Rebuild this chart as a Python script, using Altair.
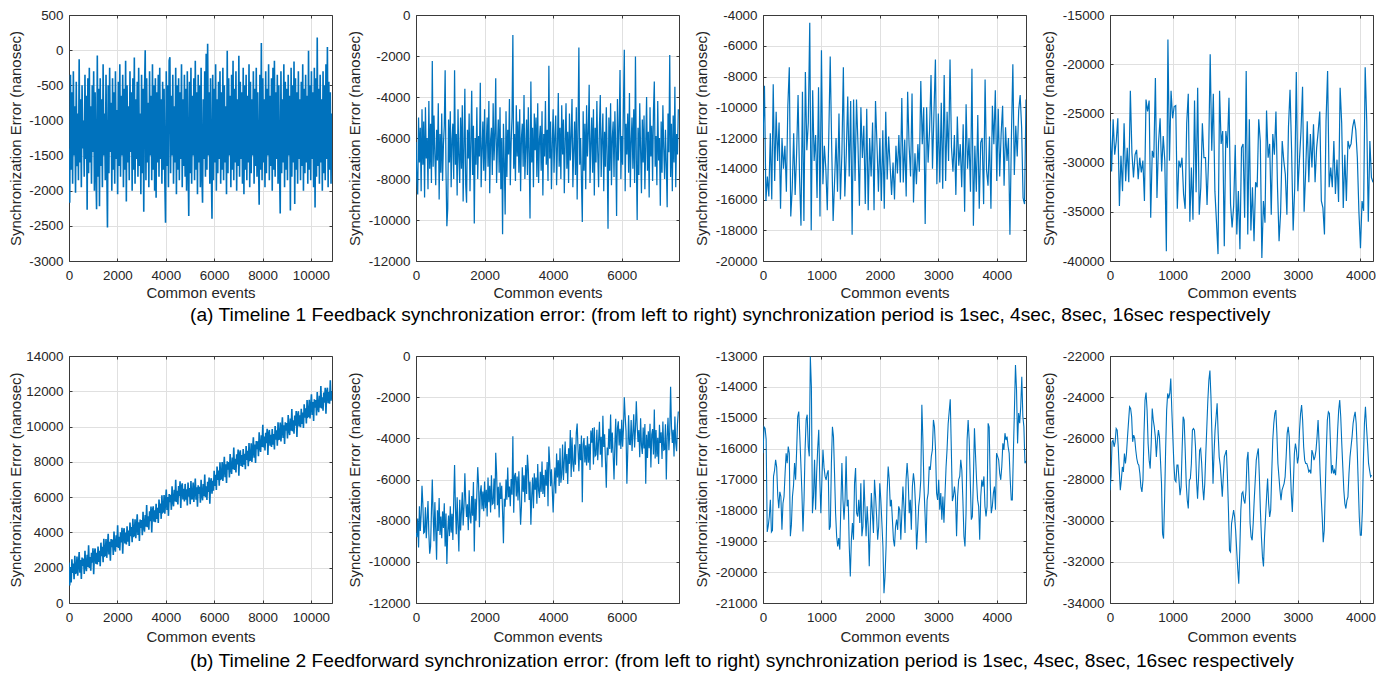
import altair as alt
import pandas as pd

FONT = "Liberation Sans"
BLUE = "#0072BD"
TXT = "#262626"
FRAME = "#3a3a3a"

Y_TITLE = "Synchronization Error (nanosec)"
X_TITLE = "Common events"
CAPTION_A = ("(a) Timeline 1 Feedback synchronization error: (from left to right) "
             "synchronization period is 1sec, 4sec, 8sec, 16sec respectively")
CAPTION_B = ("(b) Timeline 2 Feedforward synchronization error: (from left to right) "
             "synchronization period is 1sec, 4sec, 8sec, 16sec respectively")

# ---------------- Timeline 1, feedback ----------------
A1_STEP, A1_XMAX = 30, 10870
A1 = [
    -1400, -2170, -350, -1700, -600, -1900, -300, -1500, -800, -2030,
    -450, -1650, -900, -1850, -130, -1600, -700, -1950, -500, -1400,
    -1000, -1800, -350, -1550, -650, -2270, -400, -1750, -250, -1600,
    -800, -1900, -500, -1450, -300, -2000, -600, -1700, -2265, -75,
    -1800, -550, -2220, -400, -1650, -700, -1950, -200, -1500, -900,
    -1850, -350, -1600, -2525, -500, -1750, -250, -1450, -750, -2000,
    -400, -1700, -600, -1900, -300, -1550, -850, -2050, -450, -1650,
    -200, -1800, -650, -1500, -350, -1950, -550, -1700, -150, -2155,
    -500, -1600, -800, -1850, -300, -1450, -600, -2000, -400, -1700,
    -105, -1900, -700, -1550, -450, -1800, -250, -1650, -900, -2050,
    -350, -1750, -550, -2300, -600, 0, -1850, -400, -1600, -750,
    -1950, -300, -1500, -650, -1850, -200, -1700, -500, -2000, -400,
    -2100, -600, -1600, -350, -1800, -250, -1550, -700, -1900, -450,
    -1700, -550, -1850, -2455, -300, -1650, -500, -1950, -150, -100,
    -1750, -650, -1500, -350, -1900, -800, -1600, -250, -2050, -500,
    -1700, -400, -1850, -600, -1550, -200, -1950, -700, -1650, -350,
    -1800, -550, -2000, -300, -1600, -2360, -450, -1750, -250, -1900,
    -650, -1500, -400, -1850, -150, -1700, -600, -2050, -350, -1600,
    -500, -1950, -250, -1750, -2170, -700, -1550, -300, -1800, -50,
    -1700, 90, -1500, -600, -1900, -400, -1650, -2400, -350, -1850,
    -550, -1600, -200, -2000, -700, -1750, -450, -1550, -300, -1900,
    -600, -1700, -250, -1850, -500, -1600, -800, -2050, -10, -1750,
    -400, -1500, -650, -1950, -350, -1700, -150, -1850, -550, -1600,
    -300, -2000, -700, -1650, -80, -1800, -450, -1550, -600, -1900,
    -250, -2050, -500, -1700, -350, -1850, -650, -1600, -200, -1950,
    -450, -1750, -700, -1500, -300, -1900, -550, -1650, -250, -1800,
    -600, -1550, -2200, -350, -1700, 100, -1850, -400, -1600, -700,
    -1950, -300, -1750, -550, -1500, -200, -1850, -650, -1650, -400,
    -2000, -250, -1700, -150, -1800, -600, -1550, -350, -1900, -500,
    -1650, -2325, -300, -1750, -700, -1600, -200, -1950, -450, -1700,
    -550, -1850, -350, -1500, -650, -2280, -250, -1800, -500, -1600,
    -160, -2190, -400, -1700, -600, -1900, -300, -1550, -700, -1850,
    -450, -1650, -200, -2000, -550, -1750, -350, -1600, -650, -1900,
    -10, -1700, -500, -1850, -300, -1550, -600, -1950, -250, -2240,
    -400, -1800, 180, -1650, -550, -1900, -350, -1600, -700, -2000,
    -300, -1750, -500, -1850, -200, -1550, 45, -1950, -450, -1700,
    -600, -1900, -900,
]

A2_STEP, A2_XMAX = 25, 7670
A2 = [
    -6200, -8000, -8760, -5000, -7200, -5500, -8600, -4600, -7300, -5200,
    -8900, -4500, -7000, -6000, -8500, -4200, -7500, -5300, -8200, -2240,
    -7400, -4900, -6800, -8300, -5600, -7100, -4300, -9000, -5800, -7700,
    -4800, -8100, -6300, -5400, -2700, -7600, -10300, -9450, -5100, -7200,
    -4700, -8400, -6100, -5300, -8000, -2700, -7300, -5800, -8800, -4600,
    -6900, -8200, -5000, -7500, -4400, -9100, -6400, -3600, -8300, -9160,
    -5600, -7000, -4800, -8600, -6200, -3700, -7800, -5400, -10170, -6000,
    -7300, -4500, -8000, -5900, -6900, -3300, -8400, -6600, -5200, -7600,
    -4600, -8100, -6300, -5000, -7400, -4200, -8700, -6100, -5500, -7800,
    -4300, -7100, -5900, -3080, -8200, -6400, -5100, -7700, -4500, -8500,
    -6000, -10700, -5300, -7200, -9730, -4700, -7900, -5600, -6800, -4100,
    -8300, -6200, -5000, -970, -7500, -5800, -8100, -4400, -6900, -5200,
    -7700, -4600, -8600, -6000, -5300, -7400, -3900, -8000, -6500, -5100,
    -7800, -4500, -6700, -9930, -3240, -7200, -5500, -8400, -4800, -6600,
    -5000, -7900, -4300, -8200, -6100, -5400, -7600, -4700, -8800, -5800,
    -6900, -4200, -7300, -5600, -8100, -2470, -7000, -5200, -8500, -6300,
    -4600, -7700, -5900, -4900, -8300, -6400, -3800, -7400, -5500, -8000,
    -4400, -6800, -5100, -8700, -6200, -4300, -7500, -5700, -8200, -4800,
    -7100, -5900, -4100, -8400, -6600, -5200, -7800, -4500, -9000, -5600,
    -1590, -7300, -6000, -8100, -10100, -4700, -7600, -5300, -8500, -4400,
    -6900, -5800, -3400, -8200, -6300, -5000, -7700, -4600, -8800, -5500,
    -7200, -4200, -6700, -8400, -5400, -3900, -7900, -6100, -4800, -8600,
    -5700, -7400, -4500, -6800, -10430, -5000, -7600, -4300, -8300, -6000,
    -5200, -7900, -4700, -6500, -9800, -4100, -7100, -5600, -2680, -8000,
    -5900, -7300, -4400, -1700, -8600, -5300, -6800, -4800, -7700, -3800,
    -8400, -6200, -5000, -7500, -4600, -8200, -2030, -7000, -10000, -5500,
    -7800, -4300, -6600, -8700, -5100, -7200, -4900, -8500, -6300, -4000,
    -7600, -5700, -8900, -4500, -6900, -5400, -8100, -4700, -3240, -7400,
    -5900, -8300, -4200, -7100, -6000, -9300, -5200, -7700, -4400, -6500,
    -8000, -5600, -7300, -9380, -4800, -6700, -1950, -7900, -5300, -8600,
    -4900, -7200, -3500, -8400, -5800, -6800, -4600,
]

A3_STEP, A3_XMAX = 25, 4500
A3 = [
    -12000, -8600, -16100, -14500, -15800, -11700, -16000, -8500, -14800, -10300,
    -13500, -11000, -16600, -12000, -14000, -12500, -15500, -9900, -7400, -17100,
    -15300, -11700, -15700, -13000, -9200, -14500, -17700, -9000, -17400, -7700,
    -12800, -11000, -4500, -18000, -8900, -13500, -11800, -15900, -8700, -17100,
    -6300, -15000, -12500, -14000, -16700, -12000, -6700, -12500, -17400, -14800,
    -12000, -15500, -10400, -16000, -13000, -7400, -15800, -13000, -9300, -14500,
    -9600, -18300, -9500, -14800, -9500, -12400, -16400, -10000, -13300, -11200,
    -16300, -10100, -16700, -12000, -14500, -11000, -16700, -9600, -12400, -15500,
    -12000, -16100, -11500, -16600, -10300, -14700, -11900, -13800, -15700, -13600,
    -16000, -12500, -14300, -11800, -14900, -9400, -14900, -12100, -15800, -9000,
    -12500, -14500, -9100, -16200, -13000, -15000, -12400, -14200, -8300, -12400,
    -10000, -17600, -10000, -13600, -11500, -7900, -14000, -10400, -6900, -15000,
    -10400, -14900, -9700, -15300, -7900, -14800, -10300, -13500, -6900, -12600,
    -14200, -11800, -15700, -10600, -13800, -12400, -15200, -11100, -16800, -9800,
    -14000, -12000, -15500, -7500, -17700, -12500, -15500, -10500, -16600, -12300,
    -12000, -16300, -8200, -14100, -15100, -11900, -16600, -9900, -12400, -8900,
    -14800, -10100, -14500, -11700, -9900, -15100, -11300, -13500, -12000, -18300,
    -12000, -7200, -14400, -11200, -13200, -10200, -9200, -11300, -15900, -16300,
    -9500,
]

A4_STEP, A4_XMAX = 25, 4200
A4 = [
    -25800, -30900, -25600, -29200, -27800, -25500, -34400, -29300, -32900, -26000,
    -31900, -28500, -32000, -22700, -29000, -31500, -29200, -28700, -31700, -29500,
    -31000, -29800, -33900, -23600, -24800, -23700, -35600, -28800, -29500, -21400,
    -33600, -28000, -25500, -30900, -27300, -29800, -39000, -17500, -29800, -22700,
    -25500, -24300, -24200, -34700, -29800, -30500, -29500, -33200, -34700, -26000,
    -23000, -36000, -30500, -35800, -23700, -33000, -22400, -35300, -32500, -26000,
    -29500, -29500, -34300, -29500, -19000, -28800, -23000, -32900, -36000, -39300,
    -22700, -28100, -26800, -38500, -26800, -28500, -23400, -34200, -36600, -34400,
    -28200, -37300, -32900, -38800, -28500, -28100, -35600, -20700, -37300, -25600,
    -36900, -32500, -38000, -32000, -32500, -25600, -27800, -39700, -33900, -36100,
    -24700, -29500, -28100, -35300, -27100, -29200, -24800, -32500, -38000, -35000,
    -27800, -29800, -31200, -35300, -26400, -22600, -28800, -36900, -32500, -20800,
    -32900, -29800, -26800, -22300, -35000, -30900, -25800, -32000, -27100, -30500,
    -26100, -32000, -28500, -26800, -24800, -33900, -34600, -37300, -25800, -20700,
    -32500, -30500, -32500, -27800, -33200, -29700, -34000, -22400, -26000, -34600,
    -29200, -33900, -27800, -28500, -28100, -26400, -25600, -26700, -29500, -35000,
    -38700, -33900, -34900, -20300, -25800, -36000, -27800, -31500, -32000,
]

# ---------------- Timeline 2, feedforward ----------------
B1_STEP, B1_XMAX = 30, 10870
B1 = [
    2300, 1000, 2040, 1160, 2480, 1710, 2230, 1350, 2670, 1690,
    1710, 2630, 1550, 2170, 2890, 1720, 2440, 1360, 2580, 2100,
    2520, 1640, 2960, 2080, 1800, 2730, 2050, 3270, 1990, 2610,
    1830, 2850, 2280, 3100, 1630, 2860, 3090, 2220, 2850, 2180,
    3200, 2330, 2960, 2090, 3420, 2650, 3180, 2310, 3640, 2670,
    2700, 3630, 2560, 3190, 3920, 2750, 3470, 2400, 3630, 3160,
    3590, 2720, 4050, 3180, 2910, 3840, 3170, 4400, 3120, 3750,
    2980, 4010, 3430, 4260, 2790, 4020, 4240, 3370, 4000, 3320,
    4350, 3480, 4110, 3230, 4560, 3790, 4310, 3440, 4770, 3790,
    3820, 4750, 3670, 4300, 5030, 3850, 4580, 3510, 4730, 4260,
    4700, 3840, 5170, 4310, 4040, 4980, 4320, 5550, 4290, 4920,
    4160, 5200, 4630, 5470, 4000, 5240, 5480, 4610, 5250, 4580,
    5620, 4760, 5390, 4530, 5860, 5100, 5640, 4770, 6110, 5140,
    5180, 6120, 5060, 5700, 6430, 5270, 6000, 4940, 6170, 5710,
    6140, 5280, 6610, 5750, 5480, 6420, 5750, 6990, 5720, 6360,
    5590, 6630, 6060, 6900, 5390, 6590, 6780, 5870, 6470, 5760,
    6750, 5850, 6440, 5530, 6830, 6020, 6510, 5600, 6910, 5910,
    5920, 6830, 5730, 6340, 7050, 5850, 6560, 5460, 6670, 6180,
    6580, 5690, 6990, 6100, 5820, 6740, 6060, 7280, 6000, 6620,
    5840, 6870, 6290, 7110, 5630, 6850, 7070, 6200, 6930, 6370,
    7500, 6640, 7270, 6410, 7740, 6980, 7510, 6650, 7980, 7020,
    7050, 7990, 6920, 7560, 8290, 7130, 7860, 6800, 8030, 7560,
    7990, 7120, 8450, 7590, 7320, 8250, 7580, 8810, 7540, 8170,
    7400, 8430, 7860, 8700, 7220, 8440, 8650, 7770, 8390, 7710,
    8730, 7840, 8460, 7580, 8900, 8110, 8630, 7750, 9070, 8080,
    8100, 9050, 7990, 8640, 9390, 8240, 8980, 7930, 9180, 8720,
    9170, 8320, 9670, 8810, 8560, 9510, 8850, 10100, 8810, 9430,
    8640, 9650, 9060, 9880, 8390, 9600, 9810, 8920, 9540, 8850,
    9860, 8970, 9580, 8700, 10030, 9260, 9790, 8920, 10250, 9280,
    9300, 10230, 9160, 9790, 10520, 9350, 10080, 9010, 10240, 9770,
    10200, 9330, 10660, 9790, 9520, 10450, 9770, 11000, 9730, 10360,
    9590, 10620, 10050, 10880, 9410, 10640, 10870, 10000, 10640, 9970,
    11010, 10150, 10790, 9920, 11260, 10500, 11040, 10170, 11510, 10550,
    10590, 11520, 10460, 11100, 11830, 10660, 11390, 10320, 11540, 11070,
    11500, 10630, 11960, 11090, 10820, 11750, 11070, 12300, 11030, 11660,
    10900, 11930, 11360, 12200, 10730, 11960, 12200, 11330, 11960, 11300,
    12630, 11460, 12000,
]

B2_STEP, B2_XMAX = 25, 7670
B2 = [
    -8600, -8800, -7900, -9300, -7300, -8500, -7700, -6300, -7200, -8600,
    -8550, -7350, -8850, -7950, -7050, -8650, -9600, -9250, -7550, -6000,
    -7700, -9000, -7100, -8400, -9900, -7500, -8500, -6900, -8700, -7800,
    -8850, -7550, -8350, -7150, -9250, -7650, -10100, -8550, -7750, -8750,
    -7300, -8580, -7660, -8940, -7020, -5300, -7380, -8660, -6860, -8220,
    -9500, -6980, -8480, -7540, -6620, -8230, -7320, -5700, -7040, -7820,
    -7200, -8460, -6520, -7780, -8140, -6800, -7760, -6120, -9500, -6940,
    -8000, -6660, -5400, -6220, -8320, -6620, -6280, -7440, -6580, -7540,
    -6100, -7400, -6500, -7800, -5900, -7100, -6300, -7600, -5800, -7200,
    -7150, -5950, -7450, -4700, -5650, -7250, -6350, -7850, -6150, -6950,
    -6300, -7580, -9100, -6940, -7320, -6000, -6980, -5420, -6860, -6340,
    -7300, -5980, -6740, -3900, -7620, -5820, -5680, -6830, -5860, -7020,
    -5600, -6900, -8200, -7300, -5400, -6600, -5800, -7100, -5300, -6700,
    -4800, -5500, -7000, -6100, -8200, -6800, -5900, -7400, -5700, -6500,
    -5900, -7180, -5250, -6520, -6900, -5620, -6600, -5130, -6700, -5780,
    -6850, -5530, -6300, -5150, -7300, -4400, -5170, -6330, -5500, -6530,
    -7600, -6360, -5420, -6680, -4740, -5900, -5060, -6320, -4480, -6160,
    -5760, -4300, -6020, -5080, -4160, -5700, -4760, -6220, -4480, -5240,
    -3600, -5880, -3960, -5240, -5620, -4300, -5280, -3720, -3280, -4520,
    -5600, -4280, -5060, -3860, -7100, -4300, -3990, -5170, -4340, -5320,
    -3900, -5180, -4260, -5540, -3620, -4210, -3500, -5270, -3460, -4860,
    -4800, -3580, -5060, -4140, -3200, -4800, -3920, -5400, -2900, -4420,
    -3800, -5080, -6400, -4440, -4820, -3540, -4520, -2840, -4700, -3720,
    -4800, -6000, -4260, -3050, -5320, -3500, -3170, -4350, -3540, -4520,
    -3100, -4410, -3520, -2000, -2940, -3650, -6200, -4670, -2880, -4290,
    -4300, -3110, -4620, -3730, -2830, -4450, -3560, -2200, -3380, -4180,
    -3600, -4920, -3030, -4350, -4760, -3480, -4490, -3300, -6200, -3830,
    -4950, -3660, -4480, -3290, -5420, -3820, -3550, -4780, -2600, -4980,
    -3600, -4890, -3970, -5250, -3340, -4230, -3710, -5000, -3180, -4570,
    -4540, -3320, -6000, -3910, -3000, -4580, -3670, -1500, -3430, -4230,
    -3580, -4880, -2940, -4240, -4630, -3310, -2700,
]

B3_STEP, B3_XMAX = 18, 4500
B3 = [
    -16150, -15300, -15350, -15700, -18700, -18500, -18200, -17660, -18700, -18650,
    -16900, -16700, -16360, -16600, -17500, -17930, -17400, -17550, -18630, -17770,
    -17550, -16800, -16150, -16470, -15930, -16150, -18840, -18470, -17550, -17200,
    -16470, -17010, -16040, -14960, -14800, -15610, -16500, -17440, -18680, -17660,
    -16040, -15070, -14900, -15930, -16250, -13020, -14000, -18090, -17550, -16360,
    -17980, -16800, -16000, -15390, -17010, -18090, -17000, -16040, -16600, -16900,
    -17010, -16800, -16700, -18630, -18520, -16500, -15290, -15610, -16800, -18090,
    -18840, -19170, -18900, -19270, -17870, -16470, -17660, -18300, -17660, -16250,
    -17870, -17660, -19170, -20140, -18950, -18410, -18950, -17120, -16630, -18090,
    -18200, -17660, -18410, -17120, -18840, -18520, -17010, -17980, -18840, -17870,
    -18520, -19810, -18520, -17440, -18090, -18730, -17010, -17550, -18200, -18950,
    -18520, -17120, -17660, -18400, -19170, -20680, -20140, -19170, -17440, -16580,
    -17010, -17870, -17660, -18300, -18950, -19170, -18520, -18300, -18630, -17870,
    -17980, -18950, -18090, -17230, -17870, -18730, -17010, -16470, -17010, -18090,
    -17660, -18630, -17230, -16800, -17120, -17870, -19270, -18630, -17870, -17550,
    -17010, -14580, -15720, -17230, -18090, -19060, -17660, -17440, -16580, -16690,
    -16250, -16040, -15070, -15290, -16040, -17440, -17660, -17010, -17980, -17440,
    -18300, -17550, -18400, -17500, -16600, -16000, -15200, -14800, -14400, -16000,
    -17700, -17550, -17230, -17550, -18840, -17550, -17010, -16900, -16360, -16690,
    -17660, -18840, -19170, -18090, -15720, -15070, -15720, -17010, -18300, -18200,
    -17010, -15340, -16200, -17010, -17660, -17870, -18950, -17550, -17010, -17230,
    -16900, -17870, -18200, -17870, -15180, -15300, -17120, -18090, -17870, -17440,
    -17230, -17980, -16150, -16250, -16360, -16800, -17010, -16580, -15830, -16040,
    -15500, -15720, -15610, -15930, -16150, -17010, -17660, -17660, -16150, -14750,
    -13290, -14100, -15830, -14850, -15180, -14640, -13670, -14960, -15290, -16470,
    -16400,
]

B4_STEP, B4_XMAX = 16.45, 4200
B4 = [
    -28520, -27870, -26170, -26090, -26410, -26170, -25520, -25600, -26410, -27550,
    -28520, -28030, -27390, -27630, -26740, -27220, -26740, -25930, -25200, -24470,
    -24550, -24950, -26170, -25840, -26000, -26570, -26980, -27220, -27300, -27710,
    -28360, -28600, -28030, -25760, -24140, -23780, -24630, -26250, -27060, -27470,
    -26250, -24550, -25110, -25440, -25930, -26900, -26090, -25600, -25930, -27060,
    -28200, -30630, -30870, -29010, -26570, -24630, -23820, -24060, -23820, -23090,
    -24630, -25930, -27220, -28030, -28110, -27300, -27300, -28030, -28760, -28360,
    -26570, -24950, -25110, -26570, -28200, -29010, -29410, -28030, -27950, -27220,
    -25600, -25520, -25600, -26410, -28030, -28930, -27870, -26570, -26490, -27220,
    -28360, -29010, -28200, -26740, -25440, -24140, -23170, -22710, -23980, -25930,
    -28200, -26740, -25600, -24950, -24300, -25760, -26900, -27300, -28030, -28840,
    -27870, -26900, -26740, -26570, -27870, -29490, -31440, -31520, -30140, -29820,
    -29490, -29820, -30500, -31450, -32340, -33060, -31450, -29500, -28680, -28600,
    -29000, -29170, -28520, -27060, -26660, -28200, -30140, -30790, -30950, -30140,
    -29010, -28030, -27060, -26740, -26490, -27870, -29500, -30790, -31760, -32220,
    -30790, -29820, -28840, -27950, -29170, -29820, -29490, -27710, -26090, -25280,
    -24790, -24630, -25760, -27220, -27870, -28520, -29010, -28520, -28360, -28200,
    -27870, -26900, -25760, -25440, -25930, -27390, -28680, -29580, -28200, -26740,
    -26250, -26570, -27220, -26900, -25600, -24790, -24380, -25110, -26410, -27060,
    -27220, -27220, -27390, -27630, -27550, -27710, -26570, -26740, -27060, -26900,
    -26570, -25930, -25110, -26250, -27710, -28840, -29820, -31050, -30470, -28520,
    -26570, -25110, -24710, -24790, -26250, -27710, -27300, -27710, -27550, -27790,
    -26900, -25600, -24630, -24140, -24950, -26250, -27390, -28520, -29170, -29410,
    -29010, -28840, -27710, -26900, -26410, -25930, -25280, -24950, -24710, -25280,
    -26570, -28200, -29820, -30710, -30710, -29500, -27060, -25280, -24470, -25440,
    -26250, -27220, -27550, -27870, -27790,
]

# ---------------- axis ticks ----------------
X_T1 = [0, 2000, 4000, 6000, 8000, 10000]
X_T2 = [0, 2000, 4000, 6000]
X_T3 = [0, 1000, 2000, 3000, 4000]
Y_A1 = [-3000, -2500, -2000, -1500, -1000, -500, 0, 500]
Y_A2 = [-12000, -10000, -8000, -6000, -4000, -2000, 0]
Y_A3 = [-20000, -18000, -16000, -14000, -12000, -10000, -8000, -6000, -4000]
Y_A4 = [-40000, -35000, -30000, -25000, -20000, -15000]
Y_B1 = [0, 2000, 4000, 6000, 8000, 10000, 12000, 14000]
Y_B2 = [-12000, -10000, -8000, -6000, -4000, -2000, 0]
Y_B3 = [-21000, -20000, -19000, -18000, -17000, -16000, -15000, -14000, -13000]
Y_B4 = [-34000, -32000, -30000, -28000, -26000, -24000, -22000]

PANEL_W = 263
TICK_LEN = 3


def tick_axis(orient, values):
    # small inward ticks, MATLAB style (axis pulled inside by the tick length)
    return alt.Axis(orient=orient, values=values, labels=False, grid=False, domain=False,
                    ticks=True, tickSize=TICK_LEN, offset=-TICK_LEN, tickColor=FRAME,
                    tickWidth=1, title=None, minExtent=0, maxExtent=0)


def panel(vals, step, xmax, xticks, yticks, extent, lw, height, xtitle_pad):
    df = pd.DataFrame({"event": [i * step for i in range(len(vals))], "err": vals})
    ylo, yhi = yticks[0], yticks[-1]
    xscale = alt.Scale(domain=[0, xmax], nice=False, zero=False)
    yscale = alt.Scale(domain=[ylo, yhi], nice=False, zero=False)
    base = alt.Chart(df)
    line = base.mark_line(color=BLUE, strokeWidth=lw, clip=True).encode(
        x=alt.X(
            "event:Q", scale=xscale,
            axis=alt.Axis(
                values=xticks, title=X_TITLE, titlePadding=xtitle_pad,
                labelExpr="toString(datum.value)",
                domain=True, domainColor=FRAME, domainWidth=1,
                gridOpacity={"condition": {"test": "datum.value == 0", "value": 0},
                             "value": 1},
            ),
        ),
        y=alt.Y(
            "err:Q", scale=yscale,
            axis=alt.Axis(
                values=yticks, title=Y_TITLE,
                labelExpr="toString(datum.value)",
                minExtent=extent, maxExtent=extent,
                domain=True, domainColor=FRAME, domainWidth=1,
                gridOpacity={"condition": {"test": f"datum.value == {ylo} || datum.value == {yhi}",
                                           "value": 0},
                             "value": 1},
            ),
        ),
    )
    frame = base.mark_line(strokeOpacity=0).encode(
        x=alt.X(
            "event:Q", scale=xscale,
            axis=alt.Axis(orient="top", labels=False, ticks=False, grid=False,
                          domain=True, domainColor=FRAME, domainWidth=1,
                          title=None, minExtent=0, maxExtent=0),
        ),
        y=alt.Y(
            "err:Q", scale=yscale,
            axis=alt.Axis(orient="right", labels=False, ticks=False, grid=False,
                          domain=True, domainColor=FRAME, domainWidth=1,
                          title=None, minExtent=0, maxExtent=0),
        ),
    )
    ticks_bl = base.mark_line(strokeOpacity=0).encode(
        x=alt.X("event:Q", scale=xscale, axis=tick_axis("bottom", xticks)),
        y=alt.Y("err:Q", scale=yscale, axis=tick_axis("left", yticks)),
    )
    ticks_tr = base.mark_line(strokeOpacity=0).encode(
        x=alt.X("event:Q", scale=xscale, axis=tick_axis("top", xticks)),
        y=alt.Y("err:Q", scale=yscale, axis=tick_axis("right", yticks)),
    )
    return (
        alt.layer(line, frame, ticks_bl, ticks_tr)
        .resolve_axis(x="independent", y="independent")
        .properties(width=PANEL_W, height=height)
    )


def caption(text, offset):
    return alt.TitleParams(text, orient="bottom", anchor="start", dx=182, offset=offset,
                           fontSize=19.2, font=FONT, fontWeight="normal", color="black")


row_a = alt.hconcat(
    panel(A1, A1_STEP, A1_XMAX, X_T1, Y_A1, 40, 1.6, 246, 4),
    panel(A2, A2_STEP, A2_XMAX, X_T2, Y_A2, 47.5, 1.25, 246, 4),
    panel(A3, A3_STEP, A3_XMAX, X_T3, Y_A3, 47.5, 1.2, 246, 4),
    panel(A4, A4_STEP, A4_XMAX, X_T3, Y_A4, 47.5, 1.2, 246, 4),
    spacing=14,
    title=caption(CAPTION_A, 5),
)
row_b = alt.hconcat(
    panel(B1, B1_STEP, B1_XMAX, X_T1, Y_B1, 40, 1.6, 247, 6),
    panel(B2, B2_STEP, B2_XMAX, X_T2, Y_B2, 47.5, 1.2, 247, 6),
    panel(B3, B3_STEP, B3_XMAX, X_T3, Y_B3, 47.5, 1.1, 247, 6),
    panel(B4, B4_STEP, B4_XMAX, X_T3, Y_B4, 47.5, 1.1, 247, 6),
    spacing=14,
    title=caption(CAPTION_B, 7),
)

chart = (
    alt.vconcat(row_a, row_b, spacing=23)
    .properties(padding=0, background="white")
    .configure_axis(
        grid=True, gridColor="#e0e0e0", gridWidth=1,
        ticks=False, tickSize=0,
        labelFont=FONT, labelFontSize=13.4, labelColor=TXT,
        labelPadding=6, labelFlush=False, labelOverlap=False,
        titleFont=FONT, titleFontSize=15, titleFontWeight="normal", titleColor=TXT,
        titlePadding=6,
    )
    .configure_axisX(labelPadding=7.5)
    .configure_view(strokeWidth=0)
)

chart.save("out.html", embed_options={"renderer": "svg", "actions": False})
